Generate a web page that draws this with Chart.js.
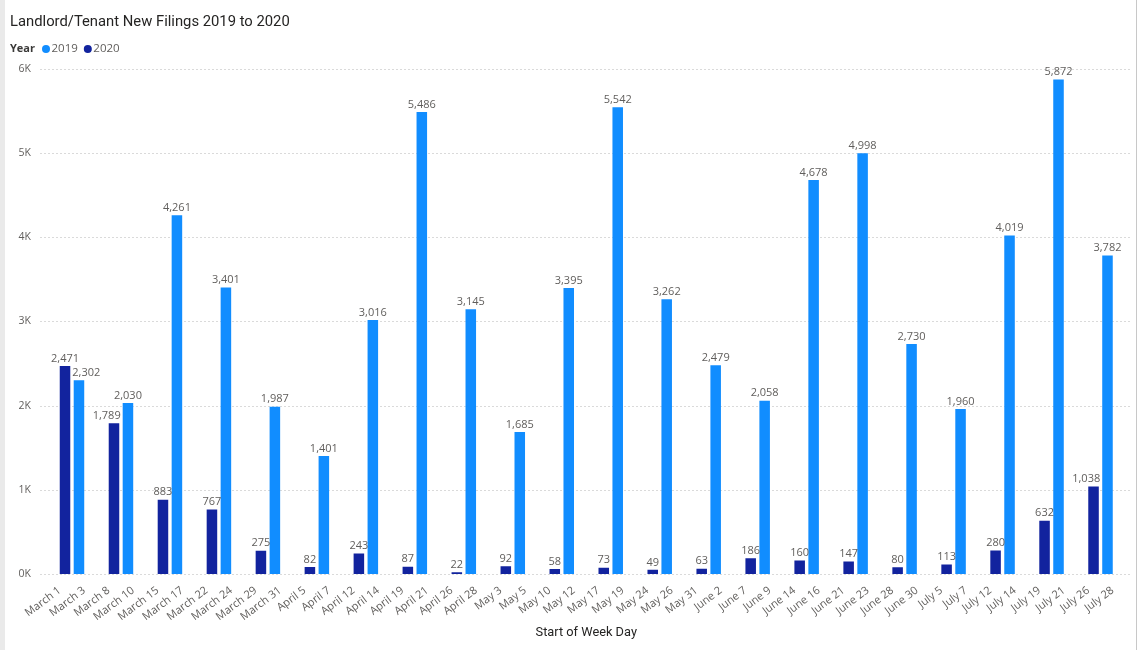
<!DOCTYPE html>
<html>
<head>
<meta charset="utf-8">
<title>Landlord/Tenant New Filings 2019 to 2020</title>
<script src="https://cdn.jsdelivr.net/npm/chart.js@4.4.0/dist/chart.umd.min.js"></script>
<style>
  body { margin: 0; background: #fff; }
  #frame {
    position: absolute; left: 0; top: 0;
    width: 1131px; height: 650px;
    border-left: 5px solid #eaeaea;
    border-right: 1px solid #c8c8c8;
  }
</style>
</head>
<body>
<div id="frame"><canvas id="filingsChart" width="1131" height="650"></canvas></div>
<script>
// week start days (2020 weeks and 2019 weeks alternate)
var weeks = ["March 1", "March 3", "March 8", "March 10", "March 15", "March 17", "March 22", "March 24",
  "March 29", "March 31", "April 5", "April 7", "April 12", "April 14", "April 19", "April 21",
  "April 26", "April 28", "May 3", "May 5", "May 10", "May 12", "May 17", "May 19", "May 24", "May 26",
  "May 31", "June 2", "June 7", "June 9", "June 14", "June 16", "June 21", "June 23", "June 28", "June 30",
  "July 5", "July 7", "July 12", "July 14", "July 19", "July 21", "July 26", "July 28"];

var filings2019 = [null, 2302, null, 2030, null, 4261, null, 3401, null, 1987, null, 1401, null, 3016, null, 5486,
  null, 3145, null, 1685, null, 3395, null, 5542, null, 3262, null, 2479, null, 2058, null, 4678, null, 4998,
  null, 2730, null, 1960, null, 4019, null, 5872, null, 3782];

var filings2020 = [2471, null, 1789, null, 883, null, 767, null, 275, null, 82, null, 243, null, 87, null,
  22, null, 92, null, 58, null, 73, null, 49, null, 63, null, 186, null, 160, null, 147, null, 80, null,
  113, null, 280, null, 632, null, 1038, null];

var yTicks = [0, 1000, 2000, 3000, 4000, 5000, 6000];

var FONT = '"Open Sans", "Noto Sans", sans-serif';
var GREY = '#605E5C';
var DARK = '#252423';

// dotted horizontal grid, a bit wider than the bars like Power BI does
var dottedGrid = {
  id: 'dottedGrid',
  beforeDatasetsDraw: function(chart) {
    var ctx = chart.ctx, y = chart.scales.y;
    ctx.save();
    ctx.strokeStyle = '#b4b4b4';
    ctx.lineWidth = 1;
    ctx.setLineDash([1, 3]);
    yTicks.forEach(function(v) {
      var py = Math.round(y.getPixelForValue(v)) + 0.5;
      ctx.beginPath();
      ctx.moveTo(chart.chartArea.left - 7, py);
      ctx.lineTo(chart.chartArea.right + 7, py);
      ctx.stroke();
    });
    ctx.restore();
  }
};

// value labels on top of each bar, nudged sideways when a taller neighbour is in the way
var barLabels = {
  id: 'barLabels',
  afterDatasetsDraw: function(chart) {
    var ctx = chart.ctx;
    var bars = [];
    chart.data.datasets.forEach(function(ds, i) {
      chart.getDatasetMeta(i).data.forEach(function(bar, j) {
        if (ds.data[j] === null) return;
        bars.push({ el: bar, value: ds.data[j] });
      });
    });
    ctx.save();
    ctx.font = '11px ' + FONT;
    ctx.fillStyle = GREY;
    ctx.textAlign = 'center';
    ctx.textBaseline = 'bottom';
    bars.forEach(function(b) {
      var text = b.value.toLocaleString('en-US');
      var w = ctx.measureText(text).width;
      var cx = b.el.x, bottom = b.el.y - 2;
      bars.forEach(function(o) {
        if (o === b) return;
        var half = o.el.width / 2;
        var left = o.el.x - half, right = o.el.x + half;
        if (o.el.y < bottom && right > cx - w / 2 + 1.5 && left < cx + w / 2 - 1.5) {
          if (o.el.x > b.el.x) cx = left - 2 - w / 2;
          else cx = right + 2 + w / 2;
        }
      });
      ctx.fillText(text, cx, bottom);
    });
    ctx.restore();
  }
};

// "Year  ● 2019  ● 2020" legend row
var yearLegend = {
  id: 'yearLegend',
  afterDraw: function(chart) {
    var ctx = chart.ctx;
    var x = 5, y = 49;
    ctx.save();
    ctx.textBaseline = 'middle';
    ctx.font = 'bold 11px ' + FONT;
    ctx.fillStyle = '#3b3a39';
    ctx.fillText('Year', x, y);
    x += ctx.measureText('Year').width + 7;
    ctx.font = '11.5px ' + FONT;
    chart.data.datasets.forEach(function(ds) {
      ctx.fillStyle = ds.backgroundColor;
      ctx.beginPath();
      ctx.arc(x + 4, y, 4, 0, Math.PI * 2);
      ctx.fill();
      x += 9.5;
      ctx.fillStyle = GREY;
      ctx.fillText(ds.label, x, y);
      x += ctx.measureText(ds.label).width + 6;
    });
    ctx.restore();
  }
};

var ctx = document.getElementById('filingsChart');
var filingsChart = new Chart(ctx, {
  type: 'bar',
  data: {
    labels: weeks,
    datasets: [{
      label: '2019',
      data: filings2019,
      backgroundColor: '#118DFF'
    }, {
      label: '2020',
      data: filings2020,
      backgroundColor: '#12239E'
    }]
  },
  plugins: [dottedGrid, barLabels, yearLegend],
  options: {
    responsive: false,
    animation: false,
    categoryPercentage: 0.86,
    barPercentage: 1.0,
    layout: {
      padding: { left: 5, right: 11, top: 0, bottom: 0 }
    },
    plugins: {
      legend: { display: false },
      tooltip: { enabled: false },
      title: {
        display: true,
        text: 'Landlord/Tenant New Filings 2019 to 2020',
        align: 'start',
        color: DARK,
        font: { family: 'Roboto', size: 14.8, weight: 'normal' },
        padding: { top: 13, bottom: 38 }
      }
    },
    scales: {
      x: {
        grid: { display: false },
        border: { display: false },
        ticks: {
          autoSkip: false,
          minRotation: 37,
          maxRotation: 37,
          padding: 2,
          color: GREY,
          font: { family: FONT, size: 11 }
        },
        title: {
          display: true,
          text: 'Start of Week Day',
          color: DARK,
          font: { family: 'Roboto', size: 12.8 },
          padding: { top: 0, bottom: 10 }
        },
        afterFit: function(scale) { scale.height = 76; }
      },
      y: {
        min: 0,
        max: 6000,
        grid: { display: false, drawTicks: false },
        border: { display: false },
        ticks: {
          stepSize: 1000,
          padding: 16.5,
          color: GREY,
          font: { family: FONT, size: 10.5 },
          callback: function(v) { return (v / 1000) + 'K'; }
        },
        afterFit: function(scale) { scale.width = 37.5; }
      }
    }
  }
});
</script>
</body>
</html>
